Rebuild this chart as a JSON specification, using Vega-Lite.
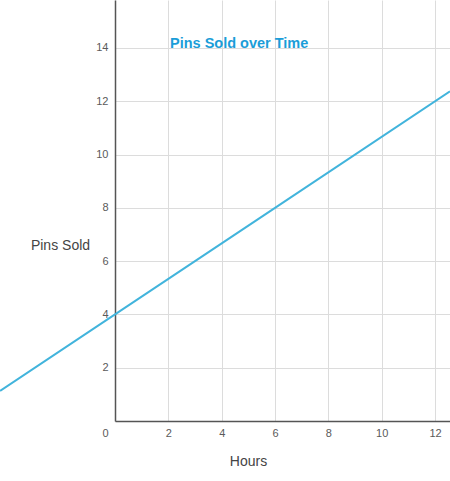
{
  "$schema": "https://vega.github.io/schema/vega-lite/v6.json",
  "width": 335,
  "height": 421,
  "autosize": "none",
  "padding": {"left": 115, "top": 0, "right": 0, "bottom": 60},
  "background": "white",
  "title": {
    "text": "Pins Sold over Time",
    "anchor": "start",
    "frame": "group",
    "offset": 0,
    "dx": 55,
    "dy": 62,
    "baseline": "alphabetic",
    "font": "Liberation Sans",
    "fontSize": 14.5,
    "fontWeight": "bold",
    "color": "#1b9dd8"
  },
  "config": {
    "view": {"stroke": null},
    "axis": {
      "labelFont": "Liberation Sans",
      "titleFont": "Liberation Sans",
      "labelFontSize": 11,
      "labelColor": "#5a5a5a",
      "titleFontSize": 14,
      "titleFontWeight": "normal",
      "titleColor": "#444444",
      "gridColor": "#dcdcdc",
      "gridWidth": 1,
      "domainColor": "#555555",
      "domainWidth": 1.5,
      "ticks": false
    }
  },
  "data": {
    "values": [
      {"hours": -4.31, "pins": 1.13},
      {"hours": 0, "pins": 4},
      {"hours": 6, "pins": 8},
      {"hours": 12.56, "pins": 12.37}
    ]
  },
  "mark": {"type": "line", "clip": false, "color": "#42b4dc", "strokeWidth": 2},
  "encoding": {
    "x": {
      "field": "hours",
      "type": "quantitative",
      "scale": {"domain": [0, 12.56], "nice": false, "zero": false},
      "axis": {
        "title": "Hours",
        "values": [0, 2, 4, 6, 8, 10, 12],
        "labelPadding": 6,
        "labelOffset": {"condition": {"test": "datum.value === 0", "value": -13}, "value": 0},
        "titleX": 133,
        "titleY": 40,
        "titleAlign": "center",
        "titleBaseline": "middle"
      }
    },
    "y": {
      "field": "pins",
      "type": "quantitative",
      "scale": {"domain": [0, 15.8], "nice": false, "zero": false},
      "axis": {
        "title": "Pins Sold",
        "values": [2, 4, 6, 8, 10, 12, 14],
        "labelPadding": 7,
        "titleAngle": 0,
        "titleX": -55,
        "titleY": 245,
        "titleAlign": "center",
        "titleBaseline": "middle"
      }
    }
  }
}
